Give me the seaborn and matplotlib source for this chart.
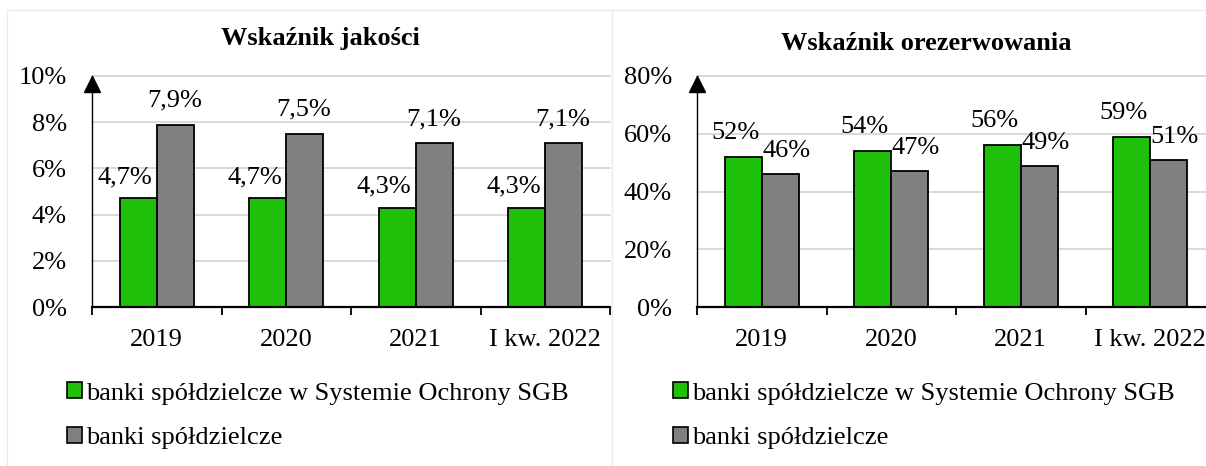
import matplotlib
matplotlib.use("Agg")
import matplotlib.pyplot as plt
from matplotlib.patches import Patch
from matplotlib.lines import Line2D
import pandas as pd
import seaborn as sns

periods = ["2019", "2020", "2021", "I kw. 2022"]
series_names = ["banki spółdzielcze w Systemie Ochrony SGB", "banki spółdzielcze"]

jakosc_sgb = [4.7, 4.7, 4.3, 4.3]
jakosc_bs = [7.9, 7.5, 7.1, 7.1]
orez_sgb = [52, 54, 56, 59]
orez_bs = [46, 47, 49, 51]

GREEN = "#1fc00a"
GRAY = "#808080"
FS = 19

sns.set_theme(style="white")
plt.rcParams["font.family"] = ["Liberation Serif", "DejaVu Serif"]
plt.rcParams["text.color"] = "black"
plt.rcParams["xtick.color"] = "black"
plt.rcParams["ytick.color"] = "black"


def long_frame(sgb, bs):
    return pd.DataFrame({
        "okres": periods * 2,
        "seria": [series_names[0]] * len(periods) + [series_names[1]] * len(periods),
        "wartosc": list(sgb) + list(bs),
    })


def draw_panel(ax, df, ymax, step, fmt, offsets):
    sns.barplot(data=df, x="okres", y="wartosc", hue="seria", order=periods,
                hue_order=series_names, palette=[GREEN, GRAY], width=0.57,
                edgecolor="black", linewidth=1.3, saturation=1, legend=False,
                ax=ax, zorder=3)
    ax.set_xlim(-0.5, 3.5)
    ax.set_ylim(0, ymax)
    ticks = list(range(0, ymax + 1, step))
    ax.set_yticks(ticks)
    ax.set_yticklabels([f"{t}%" for t in ticks])
    ax.set_xticks(range(len(periods)))
    ax.set_xticklabels(periods)
    ax.set_xticks([i - 0.5 for i in range(len(periods) + 1)], minor=True)
    ax.tick_params(axis="x", which="major", length=0, pad=16, labelsize=FS)
    ax.tick_params(axis="x", which="minor", length=6, width=1.3, color="black",
                   direction="out", bottom=True)
    ax.tick_params(axis="y", length=0, pad=18, labelsize=FS)
    ax.set_xlabel("")
    ax.set_ylabel("")
    for t in ticks[1:]:
        ax.axhline(t, color="#d9d9d9", lw=1.4, zorder=1, clip_on=False)
    for side in ("top", "right"):
        ax.spines[side].set_visible(False)
    ax.spines["bottom"].set_color("black")
    ax.spines["bottom"].set_linewidth(1.6)
    ax.spines["bottom"].set_zorder(4)
    ax.spines["left"].set_color("black")
    ax.spines["left"].set_linewidth(1.0)
    ax.plot(0, 0.965, marker="^", color="black", markersize=11,
            transform=ax.transAxes, clip_on=False, zorder=5)
    for container, (dx, dy) in zip(ax.containers, offsets):
        for bar in container:
            h = bar.get_height()
            ax.annotate(fmt(h), xy=(bar.get_x() + bar.get_width() / 2, h),
                        xytext=(dx, dy), textcoords="offset pixels",
                        ha="center", va="baseline", fontsize=FS, zorder=6)


fig = plt.figure(figsize=(12.06, 4.66), dpi=100)
fig.patch.set_facecolor("white")

W, H = 1206, 466
ax1 = fig.add_axes([92 / W, 1 - 307 / H, 518 / W, 231 / H])
ax2 = fig.add_axes([697 / W, 1 - 307 / H, 518 / W, 231 / H])

draw_panel(ax1, long_frame(jakosc_sgb, jakosc_bs), 10, 2,
           lambda v: f"{v:.1f}%".replace(".", ","), [(-13, 15), (-1, 18)])
draw_panel(ax2, long_frame(orez_sgb, orez_bs), 80, 20,
           lambda v: f"{v:.0f}%", [(-8, 18), (6, 17)])

fig.text(320 / W, 1 - 45 / H, "Wskaźnik jakości", ha="center", va="baseline",
         fontsize=FS, fontweight="bold")
fig.text(926 / W, 1 - 50 / H, "Wskaźnik orezerwowania", ha="center", va="baseline",
         fontsize=FS, fontweight="bold")

handles = [Patch(facecolor=GREEN, edgecolor="black", linewidth=1.2),
           Patch(facecolor=GRAY, edgecolor="black", linewidth=1.2)]
for x0 in (67, 673):
    fig.legend(handles, series_names, loc="upper left",
               bbox_to_anchor=(x0 / W, 1 - 382 / H), frameon=False,
               fontsize=FS, handlelength=0.58, handleheight=0.58,
               handletextpad=0.15, labelspacing=0.85, borderpad=0,
               borderaxespad=0)

# light frames around the two panels
frame_c = "#ebebeb"
fig.add_artist(Line2D([7 / W, 1], [1 - 10 / H, 1 - 10 / H], color=frame_c, lw=1))
fig.add_artist(Line2D([7 / W, 7 / W], [0, 1 - 10 / H], color=frame_c, lw=1))
fig.add_artist(Line2D([612 / W, 612 / W], [0, 1 - 10 / H], color=frame_c, lw=1))

fig.savefig("out.png", dpi=100, facecolor="white")
